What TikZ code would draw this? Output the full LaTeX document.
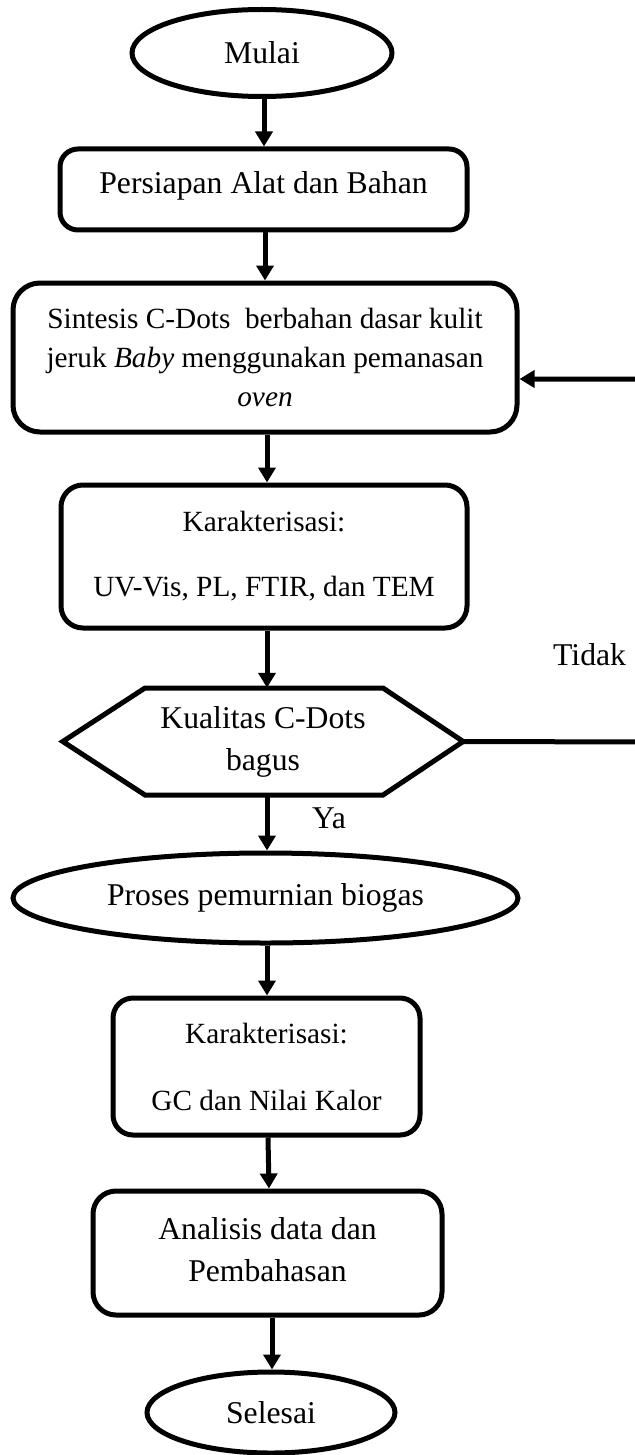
\documentclass[tikz,border=0pt]{standalone}
\usepackage{fontspec}
\setmainfont{Liberation Serif}
\usetikzlibrary{shapes.geometric,arrows.meta}
\newcommand\bigf{\fontsize{31.7pt}{42pt}\selectfont}
\newcommand\smf{\fontsize{29.3pt}{39pt}\selectfont}
\begin{document}
\begin{tikzpicture}[x=1pt,y=1pt,
  base/.style={draw, line width=5pt, inner sep=0pt, align=center, font=\bigf},
  term/.style={base, ellipse},
  proc/.style={base, rectangle, rounded corners=#1},
  proc/.default=20pt,
  arr/.style={line width=5pt, -{Triangle[width=17pt,length=15pt]}},
  lbl/.style={anchor=base west, inner sep=0pt, font=\bigf}]
\useasboundingbox (0,0) rectangle (634,-1455);
\fill[white] (0,0) rectangle (634,-1455);

\node[term, minimum width=260pt, minimum height=87pt] (mulai) at (262,-53) {Mulai};
\node[proc=18pt, minimum width=407pt, minimum height=81pt] (pers) at (263.5,-189.5)
  {Persiapan Alat dan Bahan\rule[-14.6pt]{0pt}{14.6pt}};
\node[proc=27pt, font=\smf, minimum width=504pt, minimum height=149pt] (sint) at (265,-357.5)
  {Sintesis C-Dots\ \ berbahan dasar kulit\\ jeruk \textit{Baby} menggunakan pemanasan\\ \textit{oven}};
\node[proc=22pt, font=\smf, minimum width=406pt, minimum height=143pt] (kar1) at (264,-556.5)
  {Karakterisasi:\\[26pt] UV-Vis, PL, FTIR, dan TEM};
\node[inner sep=0pt, align=center, font=\bigf, minimum width=400pt, minimum height=107pt] (hex) at (263,-741.5)
  {Kualitas C-Dots\\ bagus};
\draw[line width=5pt, line join=miter] (hex.west) -- (145,-688) -- (383,-688) -- (hex.east) -- (383,-795) -- (145,-795) -- cycle;
\node[term, minimum width=505pt, minimum height=90pt] (pros) at (265.5,-898) {Proses pemurnian biogas};
\node[proc=20pt, font=\smf, minimum width=307pt, minimum height=137pt] (kar2) at (266.5,-1066.5)
  {Karakterisasi:\\[28pt] GC dan Nilai Kalor};
\node[proc=23pt, minimum width=349pt, minimum height=124pt] (anal) at (267.5,-1253)
  {Analisis data dan\\ Pembahasan\rule[-6.9pt]{0pt}{6.9pt}};
\node[term, minimum width=248pt, minimum height=81pt] (sel) at (271,-1412.5) {Selesai};

\node[lbl] (tidak) at (553,-665) {Tidak};
\node[lbl] (ya) at (312,-828) {Ya};

\draw[arr] (mulai.south -| 264,0) -- (pers.north -| 264,0);
\draw[arr] (pers.south -| 265,0) -- (sint.north -| 265,0);
\draw[arr] (sint.south -| 267,0) -- (kar1.north -| 267,0);
\draw[arr] (kar1.south -| 267,0) -- (hex.north -| 267,0);
\draw[arr] (hex.south -| 267,0) -- (pros.north -| 267,0);
\draw[arr] (pros.south -| 267,0) -- (kar2.north -| 267,0);
\draw[arr] (kar2.south -| 268,0) -- (anal.north -| 269,0);
\draw[arr] (anal.south -| 272,0) -- (sel.north -| 272,0);

\coordinate (fb1) at (652,-742);
\coordinate (fb2) at (652,-379);
\draw[arr] (hex.east) -- (fb1) -- (fb2) -- (sint.east |- fb2);
\end{tikzpicture}
\end{document}
